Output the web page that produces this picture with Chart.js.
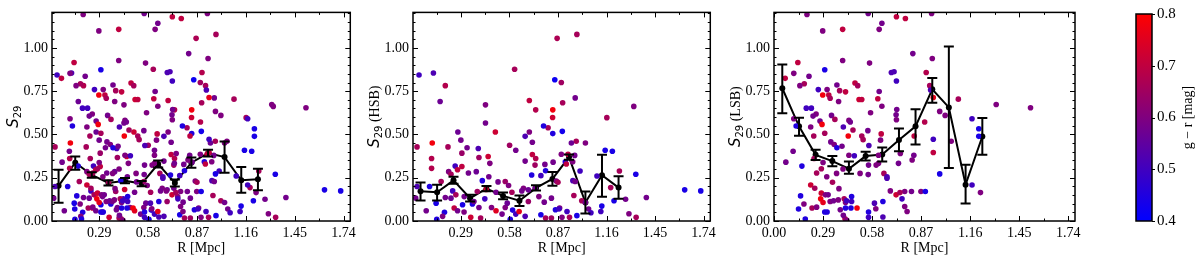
<!DOCTYPE html>
<html lang="en">
<head>
<meta charset="UTF-8">
<title>S29 vs R</title>
<script src="https://cdn.jsdelivr.net/npm/chart.js"></script>
<style>
  body { margin: 0; background: #fff; }
  .box { position: absolute; top: 0; height: 262px; }
  #box1 { left: 0; width: 360px; }
  #box2 { left: 360px; width: 360px; }
  #box3 { left: 720px; width: 365px; }
  #box4 { left: 1100px; width: 100px; }
</style>
</head>
<body>
<div class="box" id="box1"><canvas id="chartAll"></canvas></div>
<div class="box" id="box2"><canvas id="chartHsb"></canvas></div>
<div class="box" id="box3"><canvas id="chartLsb"></canvas></div>
<div class="box" id="box4"><canvas id="chartBar"></canvas></div>
<script>
// tick labels
const xTicks = [0.00, 0.29, 0.58, 0.87, 1.16, 1.45, 1.74];
const yTicks = [0.00, 0.25, 0.50, 0.75, 1.00];
const barTicks = [0.4, 0.5, 0.6, 0.7, 0.8];

// HSB galaxies: R [Mpc], S29, g-r
const hsbR = [0.04,0.126,0.197,0.166,0.437,0.611,0.865,0.851,0.89,0.699,0.737,0.839,0.838,0.811,0.784,0.839,0.896,0.674,0.699,0.717,
  0.717,0.733,0.737,0.674,0.618,0.581,0.496,0.437,0.272,0.29,0.119,0.028,0.213,0.327,0.296,0.394,0.115,0.115,0.256,0.296,
  0.398,0.453,0.463,0.335,0.382,0.217,0.231,0.27,0.418,0.457,0.512,0.555,0.575,0.5,0.595,0.664,0.693,0.713,0.768,0.796,
  0.792,0.89,0.841,0.028,0.103,0.172,0.02,0.083,0.142,0.197,0.231,0.241,0.26,0.31,0.192,0.146,0.181,0.25,0.27,0.309,
  0.3,0.359,0.349,0.398,0.408,0.433,0.473,0.5,0.536,0.555,0.567,0.585,0.599,0.618,0.638,0.674,0.654,0.693,0.733,0.756,
  0.788,0.768,0.796,0.831,0.855,0.831,0.88,0.86,0.441,0.388,0.368,
  0.983,0.973,0.898,1.323,1.162,0.979,1.034,0.95,0.93,0.97,0.914,0.958,0.92,1.152,1.195,1.002,1.237,1.335,1.103,0.959,
  0.973,0.87,1.185,0.965,1.012,1.034,1.205,1.274,1.398,1.627,1.723,1.132,0.876,0.924,1.053,1.067,1.126,0.894,0.939,0.983,
  1.294,1.337];
const hsbS = [0.843,0.855,0.782,0.69,0.671,0.877,1.055,0.816,0.80,0.696,0.642,0.642,0.598,0.539,0.549,0.505,0.518,0.489,0.514,0.455,
  0.384,0.323,0.361,0.346,0.409,0.438,0.514,0.566,0.514,0.467,0.451,0.428,0.428,0.423,0.392,0.419,0.361,0.304,0.317,0.315,
  0.367,0.373,0.333,0.277,0.285,0.285,0.27,0.296,0.233,0.256,0.226,0.228,0.205,0.166,0.166,0.189,0.18,0.266,0.262,0.29,
  0.327,0.386,0.34,0.199,0.199,0.228,0.132,0.059,0.103,0.136,0.132,0.174,0.151,0.141,0.05,0.01,0.027,0.075,0.059,0.052,
  0.094,0.098,0.021,0.078,0.017,0.128,0.078,0.059,0.04,0.078,0.103,0.01,0.063,0.04,0.055,0.027,0.174,0.113,0.189,0.141,
  0.109,0.036,0.017,0.017,0.065,0.132,0.075,0.231,0.182,0.17,0.113,
  1.078,0.711,0.683,0.662,0.597,0.461,0.451,0.451,0.386,0.379,0.342,0.342,0.329,0.409,0.403,0.289,0.289,0.27,0.26,0.233,
  0.228,0.224,0.193,0.147,0.117,0.107,0.117,0.126,0.136,0.18,0.174,0.086,0.069,0.055,0.069,0.048,0.055,0.021,0.021,0.031,
  0.042,0.021];
const hsbGR = [0.5,0.52,0.68,0.57,0.6,0.66,0.67,0.42,0.65,0.7,0.68,0.78,0.72,0.66,0.45,0.45,0.43,0.52,0.6,0.58,
  0.7,0.65,0.68,0.58,0.58,0.65,0.72,0.58,0.57,0.58,0.78,0.66,0.66,0.58,0.64,0.52,0.68,0.68,0.5,0.7,
  0.65,0.72,0.6,0.58,0.57,0.6,0.66,0.7,0.45,0.58,0.58,0.64,0.6,0.58,0.66,0.6,0.57,0.45,0.5,0.45,
  0.58,0.6,0.58,0.52,0.45,0.66,0.58,0.58,0.44,0.58,0.57,0.5,0.66,0.58,0.45,0.45,0.6,0.7,0.58,0.6,
  0.44,0.45,0.72,0.58,0.66,0.5,0.6,0.75,0.58,0.6,0.57,0.45,0.45,0.5,0.76,0.52,0.58,0.64,0.58,0.6,
  0.58,0.44,0.66,0.65,0.45,0.58,0.6,0.6,0.72,0.65,0.58,
  0.66,0.58,0.66,0.6,0.66,0.66,0.6,0.57,0.7,0.58,0.45,0.6,0.7,0.44,0.44,0.5,0.66,0.44,0.5,0.52,
  0.58,0.66,0.66,0.66,0.66,0.58,0.44,0.58,0.58,0.44,0.44,0.44,0.5,0.5,0.58,0.5,0.5,0.6,0.66,0.44,
  0.6,0.66];

// LSB galaxies
const lsbR = [0.195,0.557,0.638,0.622,0.724,0.777,0.288,0.406,0.821,0.141,0.406,0.565,0.3,0.9,0.117,0.066,0.207,0.179,0.153,0.694,
  0.71,0.724,0.479,0.495,0.372,0.262,0.314,0.388,0.423,0.288,0.324,0.332,0.382,0.622,0.614,0.503,0.519,0.638,0.726,0.571,
  0.191,0.221,0.117,0.131,0.249,0.231,0.217,0.235,0.272,0.284,0.34,0.36,0.3,0.41,0.443,0.451,0.467,0.439,0.519,0.527,
  0.555,0.634,0.63,0.722,0.724,0.829,0.891,0.336,0.356,0.372,0.402,0.443,0.561,0.618,0.747,0.817,0.827,0.113,0.07,0.165,
  0.237,0.29,0.28,0.252,0.312,0.346,0.384,0.37,0.408,0.475,0.509,0.557,0.559,0.604,0.618,0.65,0.668,0.668,0.736,0.217,
  0.241,0.157,0.177,0.145,0.185,0.225,0.252,0.28,0.276,0.29,0.304,0.32,0.3,0.314,0.332,0.352,0.38,0.392,0.423,0.415,
  0.429,0.423,0.459,0.459,0.455,0.42,0.41,0.431,0.491,0.559,0.559,0.594,0.602,0.644,0.644,0.688,0.722,0.757,0.773,0.787,
  0.773,0.813,0.869,0.895,0.745,
  0.932,0.936,0.921,0.926,0.942,1.09,1.314,1.517,0.98,1.012,1.171,1.211,1.211,0.942,1.048,0.942,0.98,1.171,1.221];
const lsbS = [1.193,1.199,1.142,1.107,1.18,1.17,1.098,1.107,0.967,0.916,0.927,0.912,0.874,0.858,0.853,0.824,0.836,0.793,0.782,0.858,
  0.862,0.809,0.797,0.782,0.786,0.759,0.759,0.753,0.746,0.728,0.728,0.709,0.69,0.748,0.706,0.702,0.702,0.663,0.644,0.625,
  0.652,0.652,0.591,0.549,0.618,0.606,0.543,0.491,0.577,0.558,0.61,0.587,0.507,0.543,0.581,0.572,0.526,0.491,0.491,0.47,
  0.522,0.503,0.467,0.614,0.585,0.491,0.572,0.457,0.442,0.423,0.432,0.38,0.436,0.38,0.39,0.352,0.38,0.403,0.34,0.317,
  0.361,0.338,0.302,0.277,0.256,0.224,0.187,0.275,0.3,0.377,0.275,0.268,0.323,0.323,0.333,0.275,0.256,0.247,0.333,0.208,
  0.189,0.145,0.098,0.069,0.011,0.075,0.08,0.161,0.128,0.107,0.151,0.151,0.052,0.052,0.113,0.117,0.122,0.065,0.107,0.128,
  0.117,0.075,0.141,0.113,0.075,0.013,0.033,0.004,0.075,0.052,0.021,0.103,0.071,0.113,0.023,0.174,0.151,0.128,0.084,0.055,
  0.17,0.17,0.17,0.17,0.164,
  1.199,0.939,0.782,0.757,0.713,0.704,0.673,0.654,0.633,0.61,0.591,0.533,0.489,0.472,0.461,0.396,0.272,0.208,0.164];
const lsbGR = [0.6,0.58,0.58,0.6,0.7,0.7,0.6,0.7,0.58,0.7,0.6,0.6,0.44,0.68,0.6,0.7,0.58,0.66,0.6,0.52,
  0.52,0.5,0.7,0.66,0.58,0.5,0.6,0.66,0.7,0.78,0.7,0.66,0.6,0.58,0.7,0.72,0.7,0.6,0.58,0.6,
  0.5,0.5,0.6,0.45,0.6,0.58,0.6,0.66,0.58,0.78,0.58,0.66,0.66,0.52,0.6,0.58,0.66,0.78,0.66,0.66,
  0.58,0.7,0.6,0.58,0.6,0.7,0.68,0.58,0.6,0.45,0.58,0.6,0.52,0.6,0.6,0.6,0.58,0.58,0.58,0.45,
  0.66,0.6,0.66,0.66,0.6,0.66,0.6,0.6,0.6,0.5,0.6,0.58,0.58,0.6,0.6,0.66,0.52,0.52,0.58,0.72,
  0.66,0.45,0.6,0.45,0.45,0.66,0.6,0.72,0.78,0.76,0.6,0.58,0.45,0.45,0.6,0.58,0.6,0.58,0.6,0.66,
  0.5,0.45,0.45,0.5,0.45,0.66,0.58,0.6,0.78,0.45,0.5,0.52,0.6,0.45,0.52,0.6,0.72,0.5,0.6,0.6,
  0.6,0.58,0.6,0.44,0.66,
  0.6,0.6,0.66,0.52,0.76,0.66,0.6,0.6,0.6,0.6,0.5,0.44,0.44,0.5,0.6,0.7,0.44,0.5,0.6];

// binned medians with error bars
const binR = [0.049,0.148,0.246,0.345,0.443,0.542,0.640,0.739,0.837,0.936,1.034,1.133,1.232];
const allMean = [0.203,0.337,0.266,0.220,0.233,0.216,0.329,0.220,0.337,0.392,0.369,0.235,0.241];
const allLo   = [0.105,0.296,0.250,0.205,0.218,0.201,0.309,0.200,0.307,0.372,0.279,0.163,0.178];
const allHi   = [0.296,0.373,0.282,0.235,0.248,0.231,0.349,0.240,0.367,0.412,0.459,0.312,0.302];
const hsbMean = [0.172,0.166,0.235,0.132,0.187,0.145,0.117,0.191,0.243,0.369,0.107,0.264,0.193];
const hsbLo   = [0.119,0.119,0.215,0.112,0.172,0.125,0.087,0.176,0.203,0.354,0.044,0.140,0.128];
const hsbHi   = [0.222,0.210,0.255,0.152,0.202,0.165,0.147,0.206,0.283,0.384,0.170,0.382,0.258];
const lsbMean = [0.767,0.547,0.382,0.346,0.302,0.375,0.384,0.468,0.547,0.761,0.656,0.210,0.488];
const lsbLo   = [0.623,0.493,0.352,0.316,0.273,0.350,0.344,0.403,0.442,0.683,0.306,0.101,0.382];
const lsbHi   = [0.904,0.597,0.412,0.376,0.344,0.400,0.424,0.535,0.646,0.826,1.008,0.325,0.595];

Chart.defaults.font.family = '"Liberation Serif", "Times New Roman", serif';
Chart.defaults.font.size = 14;
Chart.defaults.color = '#000';

// blue -> red colour map for g-r in [0.4, 0.8]
function grColor(v) {
  let t = (v - 0.4) / 0.4;
  t = Math.max(0, Math.min(1, t));
  return 'rgb(' + Math.round(255 * t) + ',0,' + Math.round(255 * (1 - t)) + ')';
}

// frame + inward ticks on all four sides
const frameTicks = {
  id: 'frameTicks',
  afterDatasetsDraw(chart) {
    const { ctx, chartArea: a, scales } = chart;
    const sx = scales.x, sy = scales.y;
    ctx.save();
    ctx.strokeStyle = '#000';
    ctx.lineWidth = 1;
    ctx.beginPath();
    for (let v = 0; v <= sx.max + 1e-9; v += 0.145) {
      if (v < sx.min - 1e-9) continue;
      const major = Math.abs(v / 0.29 - Math.round(v / 0.29)) < 1e-6;
      const len = major ? 5 : 2.5;
      const px = Math.round(sx.getPixelForValue(v)) + 0.5;
      ctx.moveTo(px, a.bottom); ctx.lineTo(px, a.bottom - len);
      ctx.moveTo(px, a.top); ctx.lineTo(px, a.top + len);
    }
    for (let i = 0; i <= 24; i++) {
      const v = i * 0.05;
      const major = i % 5 === 0;
      const len = major ? 5 : 2.5;
      const py = Math.round(sy.getPixelForValue(v)) + 0.5;
      ctx.moveTo(a.left, py); ctx.lineTo(a.left + len, py);
      ctx.moveTo(a.right, py); ctx.lineTo(a.right - len, py);
    }
    ctx.stroke();
    ctx.lineWidth = 1.5;
    ctx.strokeRect(a.left, a.top, a.right - a.left, a.bottom - a.top);
    ctx.restore();
  }
};

// error bars for the binned line
const errBars = {
  id: 'errBars',
  afterDatasetsDraw(chart, args, opts) {
    if (!opts.lo) return;
    const { ctx, scales } = chart;
    ctx.save();
    ctx.strokeStyle = '#000';
    ctx.lineWidth = 2;
    ctx.beginPath();
    for (let i = 0; i < opts.x.length; i++) {
      const px = scales.x.getPixelForValue(opts.x[i]);
      const p1 = scales.y.getPixelForValue(opts.lo[i]);
      const p2 = scales.y.getPixelForValue(opts.hi[i]);
      ctx.moveTo(px, p1); ctx.lineTo(px, p2);
      ctx.moveTo(px - 5, p1); ctx.lineTo(px + 5, p1);
      ctx.moveTo(px - 5, p2); ctx.lineTo(px + 5, p2);
    }
    ctx.stroke();
    ctx.restore();
  }
};

// rotated y label with subscript
const yLabel = {
  id: 'yLabel',
  afterDraw(chart, args, opts) {
    if (!opts.parts) return;
    const { ctx, chartArea: a } = chart;
    ctx.save();
    ctx.fillStyle = '#000';
    ctx.textBaseline = 'alphabetic';
    let w = 0;
    opts.parts.forEach(p => { ctx.font = p.font; w += ctx.measureText(p.text).width; });
    ctx.translate(a.left - opts.offset, (a.top + a.bottom) / 2);
    ctx.rotate(-Math.PI / 2);
    let x = -w / 2;
    opts.parts.forEach(p => {
      ctx.font = p.font;
      ctx.fillText(p.text, x, 5 + (p.dy || 0));
      x += ctx.measureText(p.text).width;
    });
    ctx.restore();
  }
};

function makePanel(id, R, S, GR, mean, lo, hi, xMin, leftW, rightPad, tail) {
  const pts = R.map((r, i) => ({ x: r, y: S[i] }));
  const line = binR.map((r, i) => ({ x: r, y: mean[i] }));
  new Chart(document.getElementById(id), {
    type: 'scatter',
    data: {
      datasets: [
        { data: pts, pointRadius: 2.8, pointHoverRadius: 2.8, pointBorderWidth: 0,
          pointBackgroundColor: GR.map(grColor), clip: 0 },
        { data: line, showLine: true, borderColor: '#000', borderWidth: 2,
          pointRadius: 3, pointBackgroundColor: '#000', pointBorderWidth: 0 }
      ]
    },
    options: {
      animation: false,
      responsive: true,
      maintainAspectRatio: false,
      layout: { padding: { top: 11, right: rightPad, left: 0, bottom: 0 } },
      plugins: {
        legend: { display: false },
        tooltip: { enabled: false },
        errBars: { x: binR, lo: lo, hi: hi },
        yLabel: { offset: 39, parts: [
          { text: 'S', font: 'italic 15px "DejaVu Sans"' },
          { text: '29', font: '10px "DejaVu Sans"', dy: 3 },
          { text: tail, font: '14px "Liberation Serif"' }
        ] }
      },
      scales: {
        x: {
          type: 'linear', min: xMin, max: 1.78,
          afterBuildTicks: s => { s.ticks = xTicks.filter(v => v >= s.min - 1e-9).map(v => ({ value: v })); },
          afterFit: s => { s.height = 41; },
          grid: { display: false, drawTicks: false },
          border: { display: false },
          ticks: { padding: 4, maxRotation: 0, autoSkip: false, callback: v => v.toFixed(2) },
          title: { display: true, text: 'R [Mpc]', font: { size: 14 }, padding: { top: 0, bottom: 5 } }
        },
        y: {
          type: 'linear', min: 0, max: 1.205,
          afterBuildTicks: s => { s.ticks = yTicks.map(v => ({ value: v })); },
          afterFit: s => { s.width = leftW; },
          grid: { display: false, drawTicks: false },
          border: { display: false },
          ticks: { padding: 4, callback: v => v.toFixed(2) }
        }
      }
    },
    plugins: [frameTicks, errBars, yLabel]
  });
}

makePanel('chartAll', hsbR.concat(lsbR), hsbS.concat(lsbS), hsbGR.concat(lsbGR),
  allMean, allLo, allHi, 0.01, 52, 9, '');
makePanel('chartHsb', hsbR, hsbS, hsbGR, hsbMean, hsbLo, hsbHi, 0.004, 53, 7, ' (HSB)');
makePanel('chartLsb', lsbR, lsbS, lsbGR, lsbMean, lsbLo, lsbHi, 0, 54, 10, ' (LSB)');

// colour bar
const colorBar = {
  id: 'colorBar',
  beforeDatasetsDraw(chart) {
    const { ctx, chartArea: a, scales } = chart;
    const g = ctx.createLinearGradient(0, a.bottom, 0, a.top);
    for (let i = 0; i <= 10; i++) g.addColorStop(i / 10, grColor(0.4 + 0.04 * i));
    ctx.save();
    ctx.fillStyle = g;
    ctx.fillRect(a.left, a.top, a.right - a.left, a.bottom - a.top);
    ctx.strokeStyle = '#000';
    ctx.lineWidth = 1.5;
    ctx.strokeRect(a.left, a.top, a.right - a.left, a.bottom - a.top);
    ctx.lineWidth = 1;
    ctx.beginPath();
    barTicks.forEach(v => {
      const py = Math.round(scales.y.getPixelForValue(v)) + 0.5;
      ctx.moveTo(a.right, py); ctx.lineTo(a.right + 3, py);
    });
    ctx.stroke();
    ctx.fillStyle = '#000';
    ctx.font = '14px "Liberation Serif"';
    ctx.textAlign = 'center';
    ctx.textBaseline = 'middle';
    ctx.translate(a.right + 36, (a.top + a.bottom) / 2);
    ctx.rotate(-Math.PI / 2);
    ctx.fillText('g \u2212 r [mag]', 0, 0);
    ctx.restore();
  }
};

new Chart(document.getElementById('chartBar'), {
  type: 'scatter',
  data: { datasets: [] },
  options: {
    animation: false,
    responsive: true,
    maintainAspectRatio: false,
    layout: { padding: { top: 11, left: 36, right: 0, bottom: 41 } },
    plugins: { legend: { display: false }, tooltip: { enabled: false } },
    scales: {
      x: { display: false, min: 0, max: 1 },
      y: {
        position: 'right', min: 0.4, max: 0.8,
        afterBuildTicks: s => { s.ticks = barTicks.map(v => ({ value: v })); },
        afterFit: s => { s.width = 48; },
        grid: { display: false, drawTicks: false },
        border: { display: false },
        ticks: { padding: 5, callback: v => v.toFixed(1), font: { size: 15 } }
      }
    }
  },
  plugins: [colorBar]
});
</script>
</body>
</html>
